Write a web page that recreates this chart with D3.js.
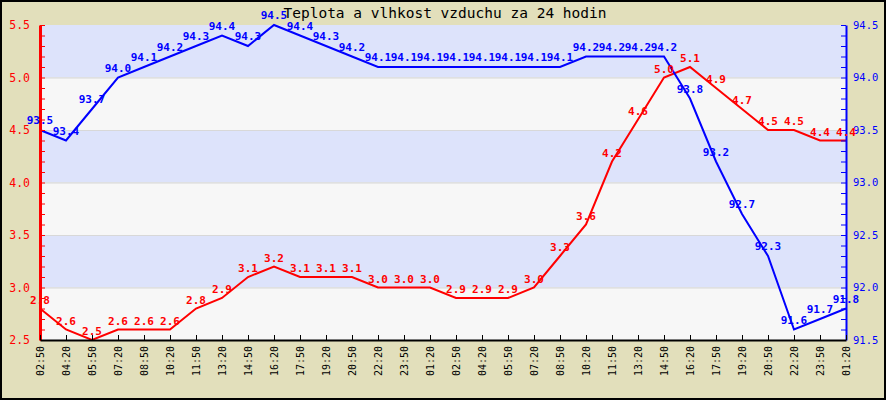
<!DOCTYPE html>
<html><head><meta charset="utf-8">
<script src="https://cdn.jsdelivr.net/npm/d3@7"></script>
<style>body{margin:0;background:#fff}svg{display:block}</style>
</head><body><svg id="c" width="886" height="400"></svg>
<script>
const title = "Teplota a vlhkost vzduchu za 24 hodin";
const times = ["02:50","04:20","05:50","07:20","08:50","10:20","11:50","13:20","14:50","16:20","17:50","19:20","20:50","22:20","23:50","01:20",
               "02:50","04:20","05:50","07:20","08:50","10:20","11:50","13:20","14:50","16:20","17:50","19:20","20:50","22:20","23:50","01:20"];
const temperature = [2.8,2.6,2.5,2.6,2.6,2.6,2.8,2.9,3.1,3.2,3.1,3.1,3.1,3.0,3.0,3.0,
                     2.9,2.9,2.9,3.0,3.3,3.6,4.2,4.6,5.0,5.1,4.9,4.7,4.5,4.5,4.4,4.4];
const humidity = [93.5,93.4,93.7,94.0,94.1,94.2,94.3,94.4,94.3,94.5,94.4,94.3,94.2,94.1,94.1,94.1,
                  94.1,94.1,94.1,94.1,94.1,94.2,94.2,94.2,94.2,93.8,93.2,92.7,92.3,91.6,91.7,91.8];
const tempTicks = [2.5,3.0,3.5,4.0,4.5,5.0,5.5];
const humTicks = [91.5,92.0,92.5,93.0,93.5,94.0,94.5];

const W = 886, H = 400;
const L = 40, R = 846, T = 25, B = 340;
const svg = d3.select("#c");
const mono = "'DejaVu Sans Mono', monospace";

svg.append("rect").attr("x",1).attr("y",1).attr("width",W-2).attr("height",H-2)
  .attr("fill","#E2DFBB").attr("stroke","#000").attr("stroke-width",2);

const x = d3.scalePoint().domain(d3.range(times.length)).range([L,R]);
const yT = d3.scaleLinear().domain([2.5,5.5]).range([B,T]);
const yH = d3.scaleLinear().domain([91.5,94.5]).range([B,T]);

// bands
const bands = d3.range(6).map(i => [2.5 + i*0.5, 3.0 + i*0.5]);
svg.append("g").selectAll("rect").data(bands).join("rect")
  .attr("x",L).attr("width",R-L)
  .attr("y",d=>yT(d[1])).attr("height",d=>yT(d[0])-yT(d[1]))
  .attr("fill",(d,i)=> i%2===0 ? "#F7F7F7" : "#DDE3FB");
svg.append("g").selectAll("line").data(tempTicks.slice(1,-1)).join("line")
  .attr("x1",L).attr("x2",R).attr("y1",d=>yT(d)+0.5).attr("y2",d=>yT(d)+0.5)
  .attr("stroke","#D8D8D8").attr("stroke-width",1);

// lines
const lineT = d3.line().x((d,i)=>x(i)).y(d=>yT(d));
const lineH = d3.line().x((d,i)=>x(i)).y(d=>yH(d));
svg.append("path").datum(temperature).attr("d",lineT).attr("fill","none").attr("stroke","#FF0000").attr("stroke-width",2);
svg.append("path").datum(humidity).attr("d",lineH).attr("fill","none").attr("stroke","#0000FF").attr("stroke-width",2);

// axes
const minorT = d3.range(25,56).map(v=>v/10);
const minorH = d3.range(915,946).map(v=>v/10);
const fmt = d3.format(".1f");
const isMajor = v => Math.abs(v*2 - Math.round(v*2)) < 1e-6;

const gL = svg.append("g").attr("transform",`translate(${L},0)`)
  .call(d3.axisLeft(yT).tickValues(minorT).tickSizeInner(-5).tickSizeOuter(0).tickPadding(10)
        .tickFormat(v=> isMajor(v) ? fmt(v) : ""));
gL.select(".domain").attr("stroke","#FF0000").attr("stroke-width",3);
gL.selectAll(".tick line").attr("stroke","#FF0000");
gL.selectAll(".tick text").attr("fill","#FF0000").attr("font-family",mono).attr("font-size","11.5px");

const gR = svg.append("g").attr("transform",`translate(${R},0)`)
  .call(d3.axisRight(yH).tickValues(minorH).tickSizeInner(-5).tickSizeOuter(0).tickPadding(7)
        .tickFormat(v=> isMajor(v) ? fmt(v) : ""));
gR.select(".domain").attr("stroke","#0000FF").attr("stroke-width",2);
gR.selectAll(".tick line").attr("stroke","#0000FF");
gR.selectAll(".tick text").attr("fill","#0000FF").attr("font-family",mono).attr("font-size","10.5px");

const gB = svg.append("g").attr("transform",`translate(0,${B})`)
  .call(d3.axisBottom(x).tickSizeInner(-5).tickSizeOuter(0).tickFormat(i=>times[i]));
gB.select(".domain").attr("stroke","#000").attr("stroke-width",2);
gB.selectAll(".tick line").attr("stroke","#000");
gB.selectAll(".tick text").attr("fill","#000").attr("font-family",mono).attr("font-size","10px")
  .attr("text-anchor","end").attr("transform","translate(0,6) rotate(-90)")
  .attr("x",0).attr("y",0).attr("dy","0.35em");

// value labels
svg.append("g").selectAll("text").data(temperature).join("text")
  .attr("x",(d,i)=>x(i)).attr("y",d=>yT(d)-5)
  .attr("text-anchor","middle").attr("font-family",mono).attr("font-weight","bold").attr("font-size","11px")
  .attr("fill","#FF0000").text(d=>fmt(d));
svg.append("g").selectAll("text").data(humidity).join("text")
  .attr("x",(d,i)=>x(i)).attr("y",d=>yH(d)-6)
  .attr("text-anchor","middle").attr("font-family",mono).attr("font-weight","bold").attr("font-size","11px")
  .attr("fill","#0000FF").text(d=>fmt(d));

svg.append("text").attr("x",445).attr("y",18).attr("text-anchor","middle")
  .attr("font-family",mono).attr("font-size","14.5px").attr("fill","#000").text(title);
</script></body></html>
